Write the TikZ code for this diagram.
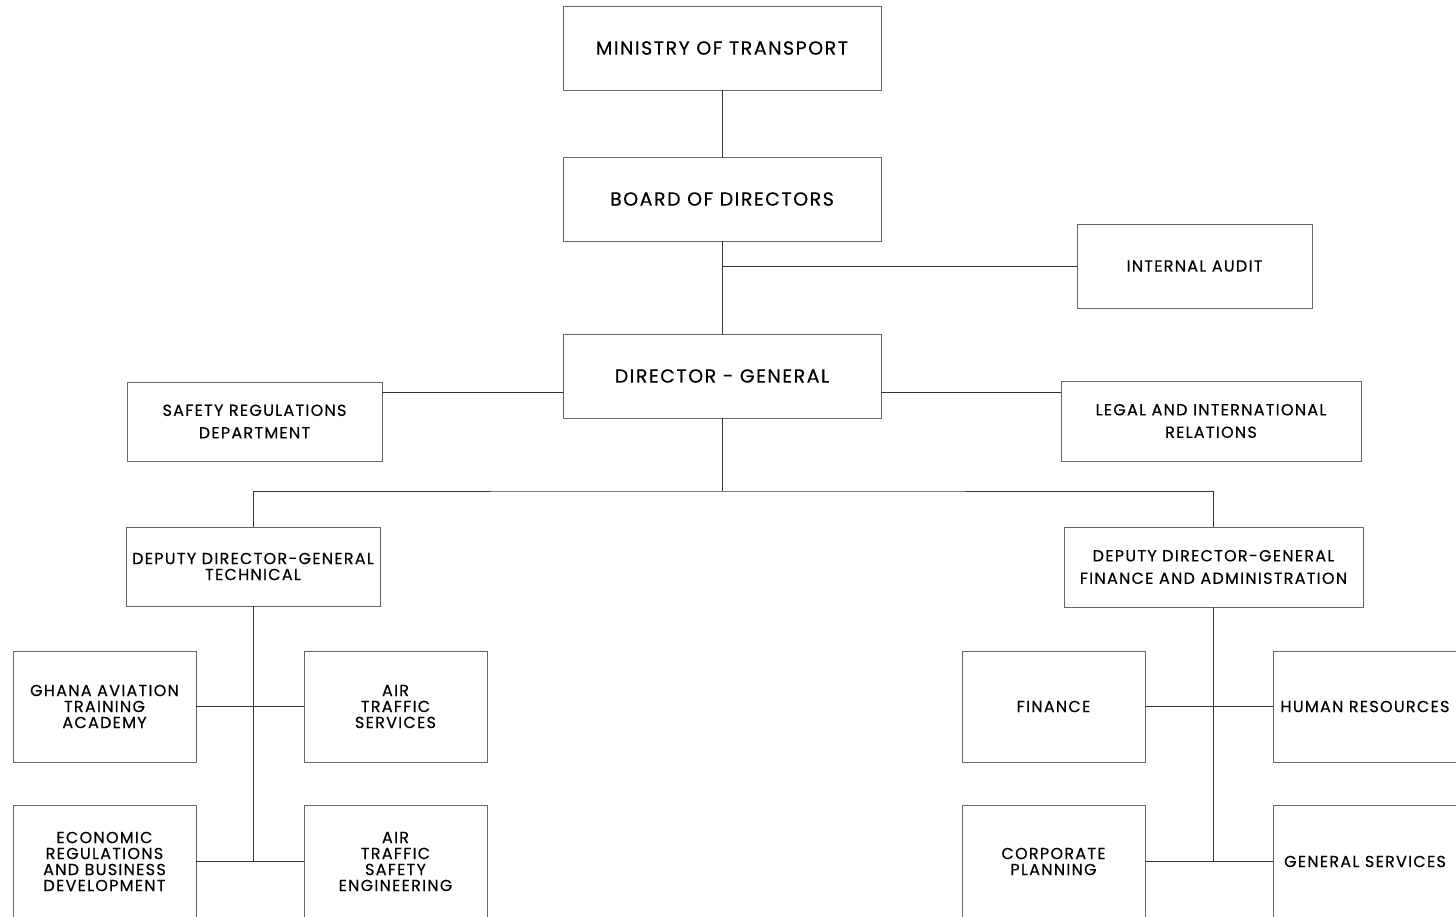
\documentclass[tikz,border=0pt]{standalone}
\usepackage{fontspec}
\setmainfont{Poppins}[LetterSpace=8,FakeBold=0.4]
\usepackage{tikz}

\begin{document}
\begin{tikzpicture}[x=1pt,y=-1pt,
	box/.style={draw=black!60,line width=0.3mm,align=center,inner sep=2pt,font=\fontsize{16}{16}\selectfont},
	widebox/.style={box,font=\fontsize{16}{22.5}\selectfont},
	topbox/.style={box,minimum width=318pt,minimum height=84pt,font=\fontsize{19}{21}\selectfont},
	unitbox/.style={box,minimum width=183pt,minimum height=111pt},
	line/.style={draw=black!80,line width=0.25mm}]
	
	\useasboundingbox (0,0) rectangle (1456,916);
	
	%Leitung
	\node[topbox] (ministry) at (722,48) {MINISTRY OF TRANSPORT};
	\node[topbox] (board) at (722,199) {BOARD OF DIRECTORS};
	\node[topbox] (dg) at (722,376) {DIRECTOR - GENERAL};
	\node[widebox,minimum width=235pt,minimum height=84pt] (audit) at (1194.5,266) {INTERNAL AUDIT};
	\node[widebox,minimum width=255pt,minimum height=79pt] (safety) at (254.5,421.5) {SAFETY REGULATIONS\\DEPARTMENT};
	\node[widebox,minimum width=300pt,minimum height=80pt] (legal) at (1211,421) {LEGAL AND INTERNATIONAL\\RELATIONS};
	
	%Stellvertreter
	\node[box,minimum width=254pt,minimum height=79pt] (ddgtech) at (253,566.5) {DEPUTY DIRECTOR-GENERAL\\TECHNICAL};
	\node[widebox,minimum width=299pt,minimum height=80pt] (ddgfin) at (1213.5,567) {DEPUTY DIRECTOR-GENERAL\\FINANCE AND ADMINISTRATION};
	
	%Abteilungen links
	\node[unitbox] (gata) at (104.5,706.5) {GHANA AVIATION\\TRAINING\\ACADEMY};
	\node[unitbox] (ats) at (395.5,706.5) {AIR\\TRAFFIC\\SERVICES};
	\node[unitbox,minimum height=113pt] (econ) at (104.5,861.5) {ECONOMIC\\REGULATIONS\\AND BUSINESS\\DEVELOPMENT};
	\node[unitbox,minimum height=113pt] (atse) at (395.5,861.5) {AIR\\TRAFFIC\\SAFETY\\ENGINEERING};
	
	%Abteilungen rechts
	\node[unitbox] (finance) at (1053.5,706.5) {FINANCE};
	\node[unitbox] (hr) at (1365,706.5) {HUMAN RESOURCES};
	\node[unitbox,minimum height=113pt] (corp) at (1053.5,861.5) {CORPORATE\\PLANNING};
	\node[unitbox,minimum height=113pt] (gs) at (1365,861.5) {GENERAL SERVICES};
	
	\coordinate (split) at (722,491); %Verzweigung
	
	%Verbindungen
	\draw[line] (ministry) -- (board);
	\draw[line] (board) -- (dg);
	\draw[line] (audit.west) -- (audit.west -| board.south);
	\draw[line] ([yshift=-16pt]dg.west) -- ([yshift=-16pt]dg.west -| safety.east);
	\draw[line] ([yshift=-16pt]dg.east) -- ([yshift=-16pt]dg.east -| legal.west);
	\draw[line] (dg.south) -- (split);
	\draw[line] (ddgtech.north) |- (split) -| (ddgfin.north);
	
	\draw[line] (ddgtech.south) -- (ddgtech.south |- econ.east);
	\draw[line] (gata) -- (ats);
	\draw[line] (econ) -- (atse);
	
	\draw[line] (ddgfin.south) -- (ddgfin.south |- corp.east);
	\draw[line] (finance) -- (hr);
	\draw[line] (corp) -- (gs);
	
\end{tikzpicture}
\end{document}
